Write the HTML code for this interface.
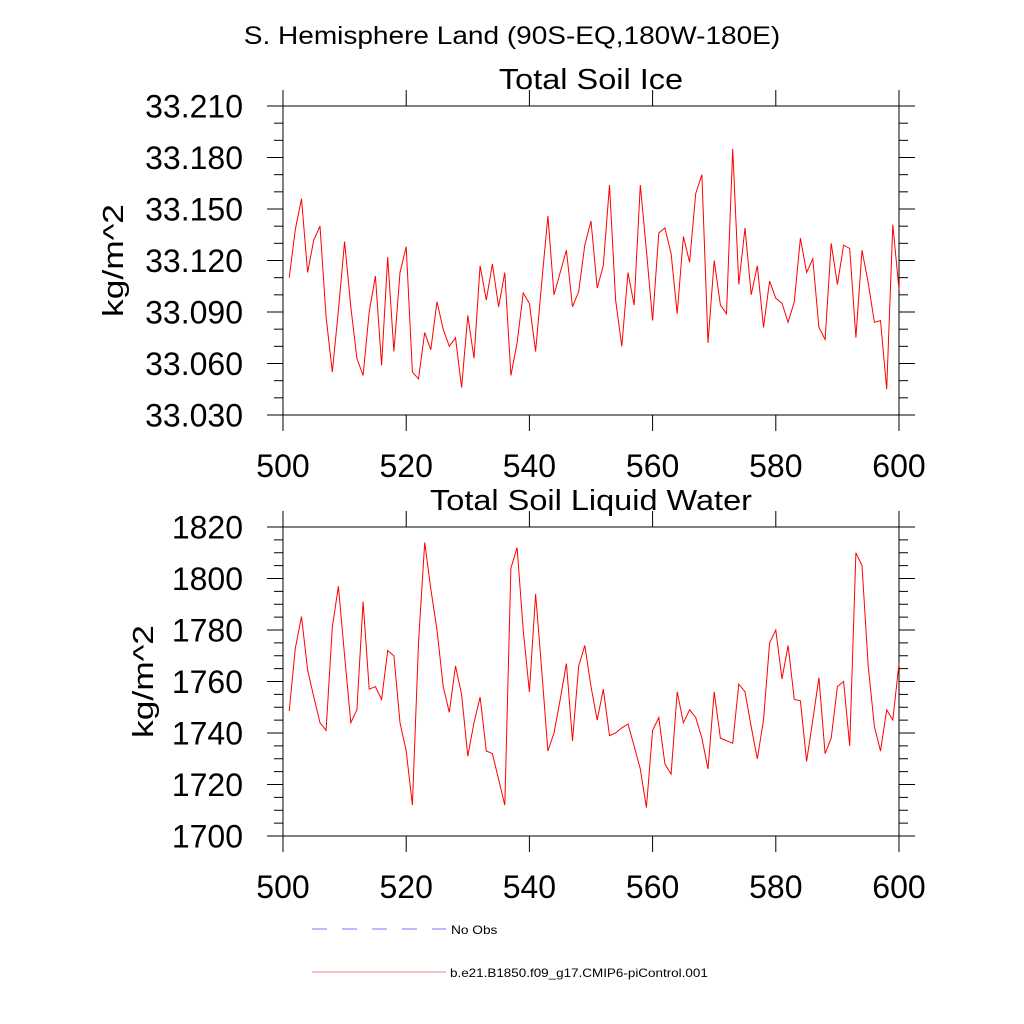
<!DOCTYPE html>
<html><head><meta charset="utf-8"><style>
body{margin:0;background:#fff}
svg{display:block;font-family:"Liberation Sans",Arial,sans-serif}
</style></head><body>
<svg id="chart" width="1024" height="1024" viewBox="0 0 1024 1024">
<text x="512" y="44" font-size="25" text-anchor="middle" data-stretch="1.12">S. Hemisphere Land (90S-EQ,180W-180E)</text>
<g id="p1"></g>
<g id="p2"></g>
<g>
<line x1="312" y1="929" x2="446" y2="929" stroke="#7777ff" stroke-width="1" stroke-dasharray="15,15"/>
<text x="451" y="934" font-size="12" data-stretch="1.14">No Obs</text>
<line x1="312" y1="972" x2="446" y2="972" stroke="#f08080" stroke-width="1"/>
<text x="450" y="977" font-size="12" data-stretch="1.12">b.e21.B1850.f09_g17.CMIP6-piControl.001</text>
</g>
</svg>
<script>
const years = Array.from({length:100},(_, i)=>501+i);
const iceValues = [33.110,33.138,33.156,33.113,33.132,33.140,33.087,33.055,33.091,33.131,
33.093,33.063,33.053,33.090,33.111,33.059,33.122,33.067,33.113,33.128,
33.055,33.051,33.078,33.068,33.096,33.080,33.070,33.075,33.046,33.088,
33.063,33.117,33.097,33.118,33.093,33.113,33.053,33.072,33.101,33.095,
33.067,33.107,33.146,33.100,33.113,33.126,33.093,33.102,33.129,33.143,
33.104,33.117,33.164,33.097,33.070,33.113,33.094,33.164,33.126,33.085,
33.136,33.139,33.124,33.089,33.134,33.119,33.159,33.170,33.072,33.120,
33.094,33.089,33.185,33.106,33.139,33.100,33.117,33.081,33.108,33.098,
33.095,33.084,33.096,33.133,33.113,33.121,33.081,33.074,33.130,33.106,
33.129,33.127,33.075,33.126,33.107,33.084,33.085,33.045,33.141,33.103];
const liquidValues = [1748.5,1772.9,1785.2,1764.5,1754,1744,1741,1781,1797,1770,
1744,1749,1791,1757,1758,1753,1772,1770,1744,1733,
1712,1775,1814,1796,1780,1758,1748,1766,1755,1731,
1744,1754,1733,1732,1722,1712,1804,1812,1780,1756,
1794,1764.5,1733,1740,1753,1767,1737,1766,1774,1758,
1745,1757,1739,1740,1742,1743.5,1735,1726,1711,1741,
1746,1728,1724,1756,1744,1749,1746,1738,1726,1756,
1738,1737,1736,1759,1756,1742.5,1730,1745,1775,1780,
1761,1774,1753,1752.5,1729,1745,1761.5,1732,1738,1758,
1760,1735,1810,1805,1766,1742.5,1733,1749,1745,1767];
const xTicks = [500,520,540,560,580,600];
const iceTicks = [33.030,33.060,33.090,33.120,33.150,33.180,33.210];
const liquidTicks = [1700,1720,1740,1760,1780,1800,1820];

const NS="http://www.w3.org/2000/svg";
function mk(parent,tag,attrs){const e=document.createElementNS(NS,tag);for(const k in attrs)e.setAttribute(k,attrs[k]);parent.appendChild(e);return e;}

function panel(g,cfg){
  const L=283,R=899,T=cfg.top,B=cfg.top+309;
  const xs=v=>L+(v-500)/100*(R-L);
  const ys=v=>B-(v-cfg.min)/(cfg.max-cfg.min)*(B-T);
  const t=mk(g,'text',{x:591,y:T-17,'font-size':29,'text-anchor':'middle','data-stretch':1.12});
  t.textContent=cfg.title;
  
  
  const yl=mk(g,'text',{x:0,y:0,'font-size':29,'text-anchor':'middle','data-stretch':1.22,transform:`translate(${cfg.ylx},${(T+B)/2}) rotate(-90)`});
  yl.textContent='kg/m^2';
  
  
  const fr=mk(g,'rect',{x:L,y:T,width:R-L,height:B-T,fill:'none',stroke:'#000','stroke-width':1});
  
  
  const step=cfg.ticks[1]-cfg.ticks[0];
  const minor=step/cfg.nminor;
  for(let i=0;i<cfg.ticks.length;i++){
    const v=cfg.ticks[i],y=ys(v);
    mk(g,'line',{x1:L-16,y1:y,x2:L,y2:y,stroke:'#000'});
    mk(g,'line',{x1:R,y1:y,x2:R+16,y2:y,stroke:'#000'});
    const lb=mk(g,'text',{x:243,y:y+11.5,'font-size':32,'text-anchor':'end'});
    lb.textContent=cfg.fmt(v);
    
    
    if(i<cfg.ticks.length-1){
      for(let j=1;j<cfg.nminor;j++){
        const yy=ys(v+j*minor);
        mk(g,'line',{x1:L-9,y1:yy,x2:L,y2:yy,stroke:'#000'});
        mk(g,'line',{x1:R,y1:yy,x2:R+9,y2:yy,stroke:'#000'});
      }
    }
  }
  for(const v of xTicks){
    const x=xs(v);
    mk(g,'line',{x1:x,y1:T-16,x2:x,y2:T,stroke:'#000'});
    mk(g,'line',{x1:x,y1:B,x2:x,y2:B+16,stroke:'#000'});
    const lb=mk(g,'text',{x:x,y:B+62,'font-size':32,'text-anchor':'middle'});
    lb.textContent=v;
    
    
  }
  const pts=years.map((yr,i)=>xs(yr).toFixed(1)+','+ys(cfg.vals[i]).toFixed(1)).join(' ');
  const pl=mk(g,'polyline',{points:pts,fill:'none',stroke:'#ff0000','stroke-width':1});
  
  
}
panel(document.getElementById('p1'),{top:106,min:33.030,max:33.210,ticks:iceTicks,nminor:3,vals:iceValues,title:'Total Soil Ice',ylx:123,fmt:v=>v.toFixed(3)});
panel(document.getElementById('p2'),{top:527,min:1700,max:1820,ticks:liquidTicks,nminor:4,vals:liquidValues,title:'Total Soil Liquid Water',ylx:153,fmt:v=>String(v)});
document.querySelectorAll('text[data-stretch]').forEach(t=>{
  const f=parseFloat(t.getAttribute('data-stretch'));
  const w=t.getComputedTextLength();
  t.setAttribute('textLength',(w*f).toFixed(1));
  t.setAttribute('lengthAdjust','spacingAndGlyphs');
});
</script>
</body></html>
